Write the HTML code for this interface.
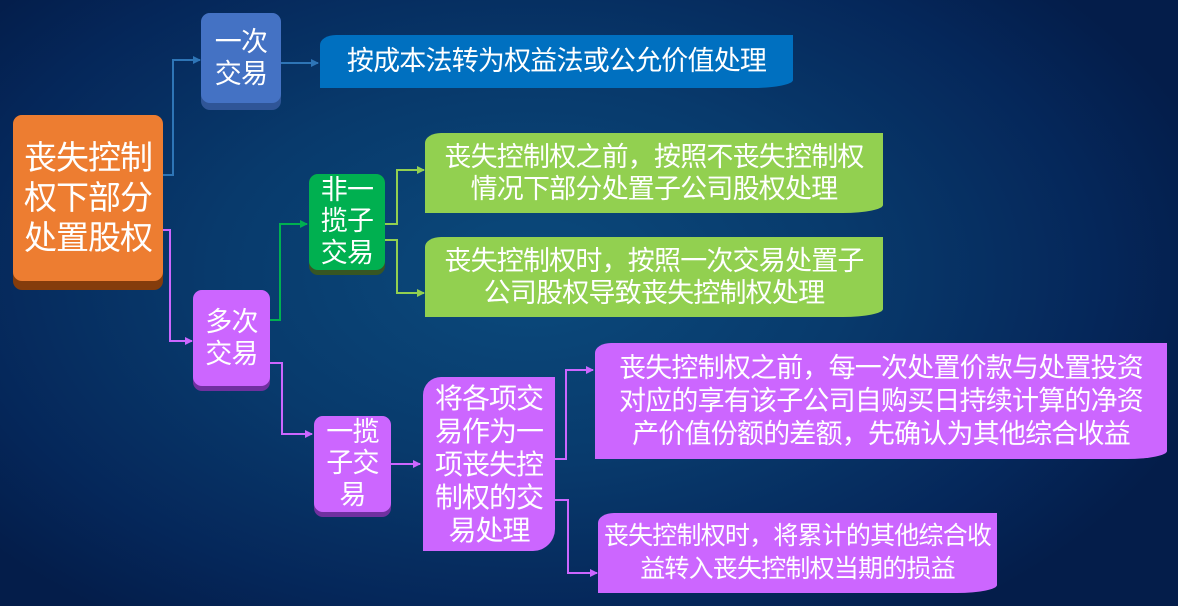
<!DOCTYPE html>
<html><head><meta charset="utf-8"><style>
html,body{margin:0;padding:0}
body{width:1178px;height:606px;position:relative;overflow:hidden;
background:radial-gradient(ellipse 60% 70% at 45% 45%,#0b4a7c 0%,#083a6c 45%,#05275a 80%,#041d4a 100%);
font-family:"Liberation Sans","Noto Sans CJK SC","WenQuanYi Zen Hei",sans-serif;color:#fff}
.b{position:absolute;display:flex;align-items:center;justify-content:center;text-align:center;box-sizing:border-box;line-height:1.2;font-size:27px;white-space:nowrap;letter-spacing:-0.8px}
.r{border-radius:9px}
.flag{border-radius:16px 0 40px 0/10px 0 8px 0}
</style></head><body>
<svg width="1178" height="606" style="position:absolute;left:0;top:0">
<defs>
<marker id="ab" markerWidth="8" markerHeight="8" refX="7" refY="4" orient="auto" markerUnits="userSpaceOnUse"><path d="M0,0L8,4L0,8z" fill="#2e75b6"/></marker>
<marker id="ag" markerWidth="8" markerHeight="8" refX="7" refY="4" orient="auto" markerUnits="userSpaceOnUse"><path d="M0,0L8,4L0,8z" fill="#00b050"/></marker>
<marker id="al" markerWidth="8" markerHeight="8" refX="7" refY="4" orient="auto" markerUnits="userSpaceOnUse"><path d="M0,0L8,4L0,8z" fill="#92d050"/></marker>
<marker id="ap" markerWidth="8" markerHeight="8" refX="7" refY="4" orient="auto" markerUnits="userSpaceOnUse"><path d="M0,0L8,4L0,8z" fill="#cc66ff"/></marker>
</defs>
<g fill="none" stroke-width="2">
<path d="M163,175H173V60H200" stroke="#2e75b6" marker-end="url(#ab)"/>
<path d="M281,63H318" stroke="#2e75b6" marker-end="url(#ab)"/>
<path d="M163,230H170V341H192" stroke="#cc66ff" marker-end="url(#ap)"/>
<path d="M270,320H280V224H307" stroke="#00b050" marker-end="url(#ag)"/>
<path d="M385,224H397V170H424" stroke="#92d050" marker-end="url(#al)"/>
<path d="M385,240H397V293H424" stroke="#92d050" marker-end="url(#al)"/>
<path d="M270,363H282V434H312" stroke="#cc66ff" marker-end="url(#ap)"/>
<path d="M391,464H420" stroke="#cc66ff" marker-end="url(#ap)"/>
<path d="M555,459H566V370H593" stroke="#cc66ff" marker-end="url(#ap)"/>
<path d="M555,500H568V573H597" stroke="#cc66ff" marker-end="url(#ap)"/>
</g></svg>

<div class="b r" style="left:13px;top:115px;width:150px;height:175px;background:#843c0c;"></div>
<div class="b r" style="left:13px;top:115px;width:150px;height:166px;background:#ed7d31;font-size:33px;line-height:40px;letter-spacing:-1px">丧失控制<br>权下部分<br>处置股权</div>

<div class="b r" style="left:201px;top:13px;width:80px;height:97px;background:#2f5597"></div>
<div class="b r" style="left:201px;top:13px;width:80px;height:90px;background:#4472c4;font-size:27px">一次<br>交易</div>

<div class="b flag" style="left:320px;top:35px;width:473px;height:53px;background:#0070c0">按成本法转为权益法或公允价值处理</div>

<div class="b r" style="left:309px;top:174px;width:76px;height:101px;background:#375623"></div>
<div class="b r" style="left:309px;top:174px;width:76px;height:96px;background:#00b050;line-height:1.15">非一<br>揽子<br>交易</div>

<div class="b flag" style="left:425px;top:133px;width:458px;height:80px;background:#92d050">丧失控制权之前，按照不丧失控制权<br>情况下部分处置子公司股权处理</div>
<div class="b flag" style="left:425px;top:237px;width:458px;height:80px;background:#92d050">丧失控制权时，按照一次交易处置子<br>公司股权导致丧失控制权处理</div>

<div class="b r" style="left:193px;top:290px;width:77px;height:101px;background:#7030a0"></div>
<div class="b r" style="left:193px;top:290px;width:77px;height:96px;background:#cc66ff">多次<br>交易</div>

<div class="b r" style="left:314px;top:416px;width:77px;height:101px;background:#7030a0"></div>
<div class="b r" style="left:314px;top:416px;width:77px;height:96px;background:#cc66ff;line-height:1.15">一揽<br>子交<br>易</div>

<div class="b" style="left:423px;top:377px;width:132px;height:174px;background:#cc66ff;border-radius:18px 0 22px 0;font-size:28px;line-height:33px;letter-spacing:-1px">将各项交<br>易作为一<br>项丧失控<br>制权的交<br>易处理</div>

<div class="b flag" style="left:595px;top:343px;width:572px;height:116px;background:#cc66ff;line-height:33px">丧失控制权之前，每一次处置价款与处置投资<br>对应的享有该子公司自购买日持续计算的净资<br>产价值份额的差额，先确认为其他综合收益</div>
<div class="b flag" style="left:598px;top:513px;width:399px;height:80px;background:#cc66ff;line-height:33px;font-size:25px">丧失控制权时，将累计的其他综合收<br>益转入丧失控制权当期的损益</div>
</body></html>
